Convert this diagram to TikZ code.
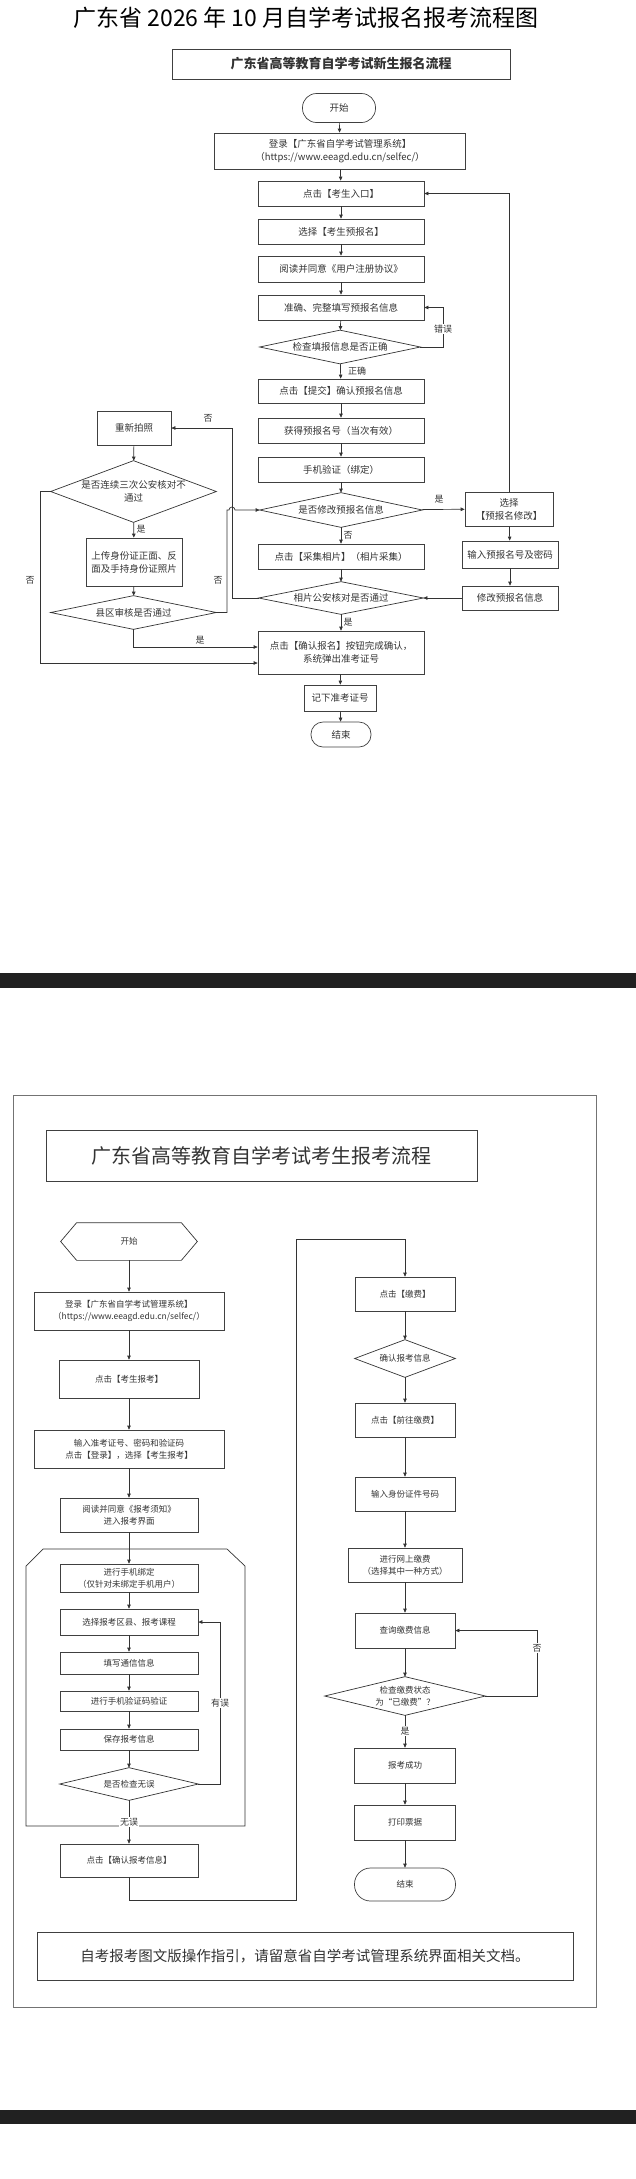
\documentclass[tikz,border=0pt]{standalone}
\usepackage{fontspec}
\setmainfont{Noto Sans CJK SC}
\usetikzlibrary{arrows.meta}

\tikzset{
  ln/.style={draw=black!80, line width=0.7pt},
  arr/.style={ln, -{Triangle[length=4pt,width=3.5pt]}},
  box/.style={draw=black!75, line width=0.7pt, align=center, inner sep=1pt,
    font=\fontsize{8.5}{12}\selectfont, text=black!80},
  lab/.style={font=\fontsize{9}{10}\selectfont, text=black!80, inner sep=1pt},
}
% box and diamond at (cx,cy) with width and height
\newcommand\bx[7][]{\node[box,#1,minimum width=#5pt,minimum height=#6pt] (#2) at (#3,#4) {#7};}
\newcommand\dia[7][]{\node[box,draw=none,#1,minimum width=#5pt,minimum height=#6pt] (#2) at (#3,#4) {#7};
  \draw[ln] (#2.north) -- (#2.east) -- (#2.south) -- (#2.west) -- cycle;}

\begin{document}
\begin{tikzpicture}[x=1pt,y=-1pt]
  \useasboundingbox (0,0) rectangle (636,2179);

  % ---- part 1: new students
  \begin{scope}[box/.append style={font=\fontsize{9.5}{13}\selectfont}]
  \node[font=\fontsize{23}{26}\selectfont] (ttl) at (306,18) {广东省 2026 年 10 月自学考试报名报考流程图};
  \bx[font=\bfseries\fontsize{13}{15}\selectfont]{sub}{341}{64}{338}{30}{广东省高等教育自学考试新生报名流程}
  \bx[rounded corners=14pt]{start}{339}{108}{73}{29}{开始}
  \bx{login}{340}{151}{251}{36}{登录【广东省自学考试管理系统】\\（https://www.eeagd.edu.cn/selfec/）}
  \bx{entry}{341}{193.5}{166}{25}{点击【考生入口】}
  \bx{pre}{341}{231.5}{166}{25}{选择【考生预报名】}
  \bx{read}{341}{269}{166}{26}{阅读并同意《用户注册协议》}
  \bx{fill}{341}{307.5}{166}{25}{准确、完整填写预报名信息}
  \dia{chk}{340}{347}{160}{33}{检查填报信息是否正确}
  \bx{submit}{341}{391}{166}{24}{点击【提交】确认预报名信息}
  \bx{get}{341}{430.5}{166}{25}{获得预报名号（当次有效）}
  \bx{phone}{341}{469.5}{166}{25}{手机验证（绑定）}
  \dia{mod}{341}{510}{162}{34}{是否修改预报名信息}
  \bx{sel}{509}{509}{88}{34}{选择\\【预报名修改】}
  \bx{inp}{510}{554.5}{96}{27}{输入预报名号及密码}
  \bx{chg}{510}{598}{96}{24}{修改预报名信息}
  \bx{photo}{341}{556.5}{166}{25}{点击【采集相片】（相片采集）}
  \dia{pchk}{341}{598}{164}{32}{相片公安核对是否通过}
  \bx{conf}{341}{652.5}{166}{43}{点击【确认报名】按钮完成确认，\\系统弹出准考证号}
  \bx{note}{340}{698}{72}{26}{记下准考证号}
  \bx[rounded corners=12pt]{end}{341}{734.5}{60}{25}{结束}
  \bx{retake}{134}{428}{74}{34}{重新拍照}
  \dia{three}{133.5}{491.5}{165}{61}{是否连续三次公安核对不\\通过}
  \bx{upl}{134}{562}{96}{48}{上传身份证正面、反\\面及手持身份证照片}
  \dia{cty}{133.5}{612.5}{165}{33}{县区审核是否通过}
  \end{scope}

  \foreach \a/\b in {start/login,login/entry,entry/pre,pre/read,read/fill,fill/chk,
    chk/submit,submit/get,get/phone,phone/mod,mod/photo,photo/pchk,pchk/conf,
    conf/note,note/end,sel/inp,inp/chg,retake/three,three/upl,upl/cty}
    \draw[arr] (\a) -- (\b);
  \draw[arr] (chk.east) -- ++(23,0) |- (fill.east);
  \draw[arr] (mod) -- (sel);
  \draw[arr] (sel.north) |- (entry.east);
  \draw[arr] (chg) -- (pchk.east);
  \coordinate (k1) at (232,428);
  \draw[arr] (pchk.west) -| (k1) -- (retake.east);
  \coordinate (k2) at (227,510);
  \draw[arr] (cty.east) -| (k2) -- (229,510) arc[start angle=180,end angle=360,radius=3] -- (mod.west);
  \draw[arr] (cty.south) |- ([yshift=5.5pt]conf.west);
  \draw[arr] (three.west) -- ++(-10,0) |- ([yshift=-10.5pt]conf.west);
  \node[lab] at (443,329) [fill=white] {错误};
  \node[lab] at (357,371) {正确};
  \node[lab] at (439,499) {是};
  \node[lab] at (348,535) {否};
  \node[lab] at (348,622) {是};
  \node[lab] at (208,418) {否};
  \node[lab] at (141,529) {是};
  \node[lab] at (218,580) {否};
  \node[lab] at (200,640) {是};
  \node[lab] at (30,580) {否};

  \fill[black!87] (0,973) rectangle (636,988);

  % ---- part 2: registration for exams
  \begin{scope}[every node/.append style={text=black!70}]
  \draw[black!55, line width=0.8pt] (13,1095) rectangle (596,2007);
  \bx[font=\fontsize{20}{22}\selectfont]{ttl2}{261.5}{1155.5}{431}{51}{广东省高等教育自学考试考生报考流程}
  \node[box,draw=none,minimum width=136pt,minimum height=37pt] (start2) at (129,1241.5) {开始};
  \draw[ln] (start2.west) -- ([xshift=16pt]start2.north west) -- ([xshift=-16pt]start2.north east)
    -- (start2.east) -- ([xshift=-16pt]start2.south east) -- ([xshift=16pt]start2.south west) -- cycle;
  \bx{login2}{129}{1311}{190}{38}{登录【广东省自学考试管理系统】\\（https://www.eeagd.edu.cn/selfec/）}
  \bx{click2}{129}{1379}{140}{38}{点击【考生报考】}
  \bx{inp2}{129}{1449}{190}{38}{输入准考证号、密码和验证码\\点击【登录】，选择【考生报考】}
  \bx{read2}{129}{1515}{138}{34}{阅读并同意《报考须知》\\进入报考界面}
  \draw[ln] (26,1566) -- (43,1549) -- (227,1549) -- (245,1566) -- (245,1826) -- (26,1826) -- cycle;
  \bx{bind}{129}{1578}{138}{28}{进行手机绑定\\（仅针对未绑定手机用户）}
  \bx{area}{129}{1622}{138}{26}{选择报考区县、报考课程}
  \bx{comm}{129}{1663}{138}{22}{填写通信信息}
  \bx{vcode}{129}{1701}{138}{20}{进行手机验证码验证}
  \bx{save}{129}{1739.5}{138}{21}{保存报考信息}
  \dia{ok}{129}{1784}{138}{32}{是否检查无误}
  \bx{confirm2}{129}{1860.5}{138}{33}{点击【确认报考信息】}
  \bx{pay}{405}{1294}{100}{34}{点击【缴费】}
  \dia{cinfo}{405}{1358.5}{100}{37}{确认报考信息}
  \bx{goto}{405}{1420}{100}{34}{点击【前往缴费】}
  \bx{idn}{405}{1494}{100}{34}{输入身份证件号码}
  \bx{online}{405}{1565}{114}{34}{进行网上缴费\\（选择其中一种方式）}
  \bx{query}{405}{1630.5}{100}{35}{查询缴费信息}
  \dia{paychk}{405}{1696}{160}{38}{检查缴费状态\\为“已缴费”？}
  \bx{succ}{405}{1765.5}{101}{35}{报考成功}
  \bx{print}{405}{1822.5}{101}{35}{打印票据}
  \bx[rounded corners=16pt]{end2}{405}{1884.5}{101}{33}{结束}
  \bx[font=\fontsize{14.5}{16}\selectfont]{tip}{305}{1956}{536}{48}{自考报考图文版操作指引，请留意省自学考试管理系统界面相关文档。}

  \foreach \a/\b in {start2/login2,login2/click2,click2/inp2,inp2/read2,read2/bind,
    bind/area,area/comm,comm/vcode,vcode/save,save/ok,ok/confirm2,
    pay/cinfo,cinfo/goto,goto/idn,idn/online,online/query,query/paychk,
    paychk/succ,succ/print,print/end2}
    \draw[arr] (\a) -- (\b);
  \draw[arr] (ok.east) -- ++(22,0) |- (area.east);
  \coordinate (t1) at (296,1900);
  \coordinate (t2) at (296,1239);
  \draw[arr] (confirm2.south) |- (t1) -- (t2) -| (pay.north);
  \draw[arr] (paychk.east) -- ++(52,0) |- (query.east);
  \node[lab,fill=white] at (220,1703) {有误};
  \node[lab,fill=white] at (129,1822) {无误};
  \node[lab,fill=white] at (405,1731) {是};
  \node[lab,fill=white] at (537,1648) {否};
  \end{scope}

  \fill[black!87] (0,2110) rectangle (636,2124);
\end{tikzpicture}
\end{document}
